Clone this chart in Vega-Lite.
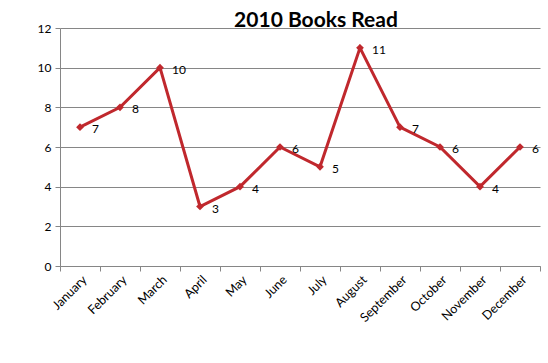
{
  "$schema": "https://vega.github.io/schema/vega-lite/v6.json",
  "width": 480,
  "height": 238,
  "autosize": {"type": "none"},
  "padding": {"left": 60, "top": 28, "right": 8, "bottom": 97},
  "background": "white",
  "title": {"text": "2010 Books Read", "font": "Lato", "fontSize": 21, "fontWeight": "bold", "color": "#000000", "anchor": "middle", "dx": 16, "baseline": "bottom", "offset": 0, "dy": 30},
  "data": {"values": [
    {"month": "January", "books": 7},
    {"month": "February", "books": 8},
    {"month": "March", "books": 10},
    {"month": "April", "books": 3},
    {"month": "May", "books": 4},
    {"month": "June", "books": 6},
    {"month": "July", "books": 5},
    {"month": "August", "books": 11},
    {"month": "September", "books": 7},
    {"month": "October", "books": 6},
    {"month": "November", "books": 4},
    {"month": "December", "books": 6}
  ]},
  "encoding": {
    "x": {"field": "month", "type": "ordinal", "sort": null,
      "scale": {"paddingInner": 0, "paddingOuter": 0},
      "axis": {"title": null, "labelAngle": -45, "labelAlign": "right", "labelBaseline": "top", "labelFont": "Lato", "labelFontSize": 12.5, "labelColor": "#000000", "labelPadding": 2, "tickBand": "extent", "tickColor": "#868686", "tickSize": 5, "domainColor": "#868686", "grid": false}},
    "y": {"field": "books", "type": "quantitative",
      "scale": {"domain": [0, 12], "nice": false},
      "axis": {"title": null, "values": [0, 2, 4, 6, 8, 10, 12], "labelFont": "Lato", "labelFontSize": 12, "labelColor": "#000000", "labelPadding": 4, "tickColor": "#868686", "tickSize": 5, "domainColor": "#868686", "gridColor": "#868686", "gridWidth": 1}}
  },
  "layer": [
    {"mark": {"type": "line", "color": "#C0282D", "strokeWidth": 3}},
    {"mark": {"type": "point", "shape": "diamond", "filled": true, "color": "#C0282D", "size": 60, "opacity": 1}},
    {"mark": {"type": "text", "align": "left", "dx": 12, "dy": 2, "font": "Lato", "fontSize": 12, "color": "#000000"}, "encoding": {"text": {"field": "books", "type": "quantitative"}}}
  ],
  "config": {"view": {"stroke": null}}
}
